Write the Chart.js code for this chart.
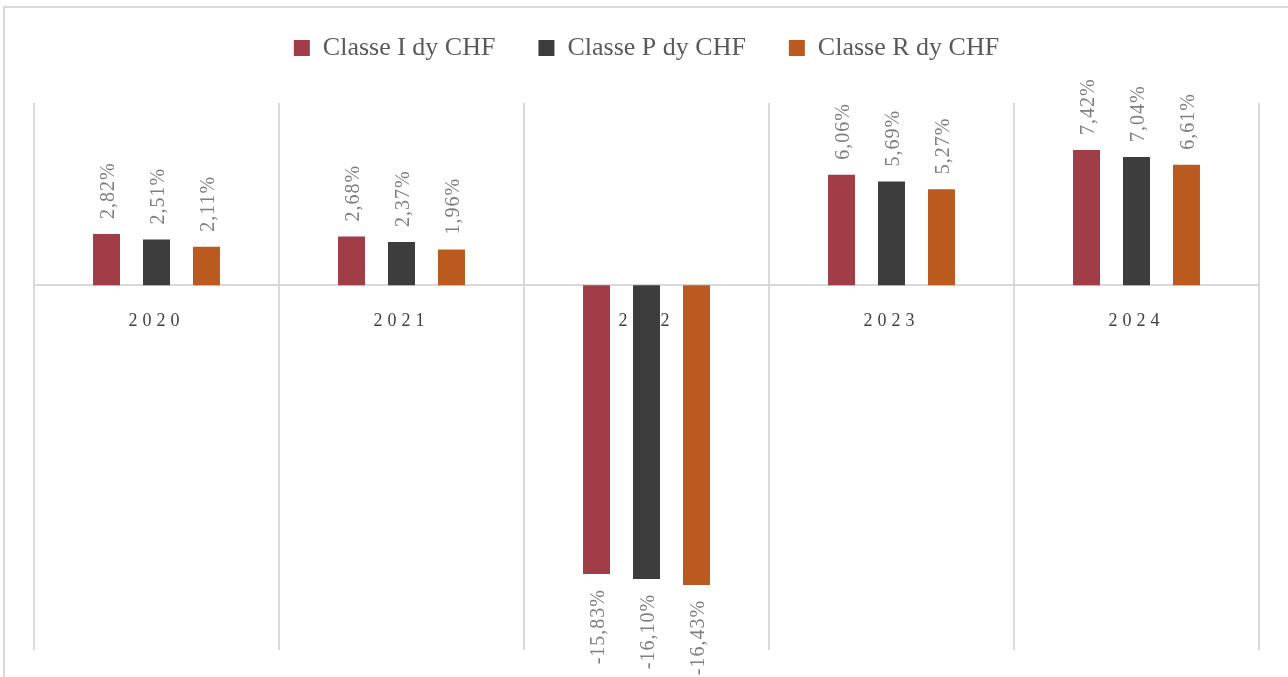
<!DOCTYPE html>
<html>
<head>
<meta charset="utf-8">
<script src="https://cdn.jsdelivr.net/npm/chart.js@4.4.1/dist/chart.umd.min.js"></script>
<style>
  html, body { margin: 0; padding: 0; background: #ffffff; overflow: hidden; }
  #wrap { position: absolute; left: 0; top: 0; width: 1288px; height: 677px; }
  #frame { position: absolute; left: 3px; top: 6px; width: 1300px; height: 700px;
           border-left: 2px solid #d9d9d9; border-top: 2px solid #d9d9d9; pointer-events: none; }
</style>
</head>
<body>
<div id="wrap"><canvas id="c" width="1288" height="677"></canvas></div>
<div id="frame"></div>
<script>
const categories = ['2020', '2021', '2022', '2023', '2024'];
const seriesNames = ['Classe I dy CHF', 'Classe P dy CHF', 'Classe R dy CHF'];
const classeI = [2.82, 2.68, -15.83, 6.06, 7.42];
const classeP = [2.51, 2.37, -16.10, 5.69, 7.04];
const classeR = [2.11, 1.96, -16.43, 5.27, 6.61];
const colors = ['#a03d46', '#3d3d3d', '#ba5a1e'];

const SERIF = "'Liberation Serif', 'DejaVu Serif', serif";

function fmt(v) { return v.toFixed(2).replace('.', ',') + '%'; }

const valueLabels = {
  id: 'valueLabels',
  afterDatasetsDraw(chart) {
    const ctx = chart.ctx;
    chart.data.datasets.forEach((ds, di) => {
      const meta = chart.getDatasetMeta(di);
      meta.data.forEach((bar, i) => {
        const v = ds.data[i];
        const p = bar.getProps(['x', 'y', 'base'], true);
        ctx.save();
        ctx.font = "20px " + SERIF;
        ctx.fillStyle = '#7f7f7f';
        ctx.letterSpacing = '1px';
        ctx.textBaseline = 'middle';
        if (v >= 0) {
          ctx.translate(p.x + 2, p.y - 15);
          ctx.rotate(-Math.PI / 2);
          ctx.textAlign = 'left';
        } else {
          ctx.translate(p.x + 2, p.y + 15);
          ctx.rotate(-Math.PI / 2);
          ctx.textAlign = 'right';
        }
        ctx.fillText(fmt(v), 0, 0);
        ctx.restore();
      });
    });
  }
};

const spacedTicks = {
  id: 'spacedTicks',
  beforeDraw(chart) {
    const s = chart.scales.x;
    if (s && !s._spaced) {
      const orig = s.drawLabels;
      s.drawLabels = function (area) {
        const c = this.ctx;
        c.save();
        c.letterSpacing = '5px';
        orig.call(this, area);
        c.restore();
      };
      s._spaced = true;
    }
  }
};

const legendSpace = {
  id: 'legendSpace',
  beforeInit(chart) {
    const fit = chart.legend.fit;
    chart.legend.fit = function () {
      fit.call(this);
      this.height += 32;
    };
  }
};

new Chart(document.getElementById('c'), {
  type: 'bar',
  data: {
    labels: categories,
    datasets: [
      { label: seriesNames[0], data: classeI, backgroundColor: colors[0] },
      { label: seriesNames[1], data: classeP, backgroundColor: colors[1] },
      { label: seriesNames[2], data: classeR, backgroundColor: colors[2] }
    ]
  },
  options: {
    responsive: false,
    animation: false,
    devicePixelRatio: 1,
    categoryPercentage: 0.612,
    barPercentage: 0.54,
    layout: { padding: { top: -8, left: 34, right: 29, bottom: 27 } },
    plugins: {
      tooltip: { enabled: false },
      legend: {
        position: 'top',
        labels: {
          boxWidth: 16,
          boxHeight: 16,
          padding: 43,
          color: '#595959',
          font: { family: SERIF, size: 26 }
        }
      }
    },
    scales: {
      x: {
        position: { y: 0 },
        grid: { display: true, offset: true, color: '#d9d9d9', lineWidth: 2, drawTicks: false },
        border: { display: true, color: '#d9d9d9', width: 2 },
        ticks: { color: '#404040', padding: 25, font: { family: SERIF, size: 18 } }
      },
      y: {
        display: false,
        min: -20,
        max: 10
      }
    }
  },
  plugins: [valueLabels, spacedTicks, legendSpace]
});
</script>
</body>
</html>
